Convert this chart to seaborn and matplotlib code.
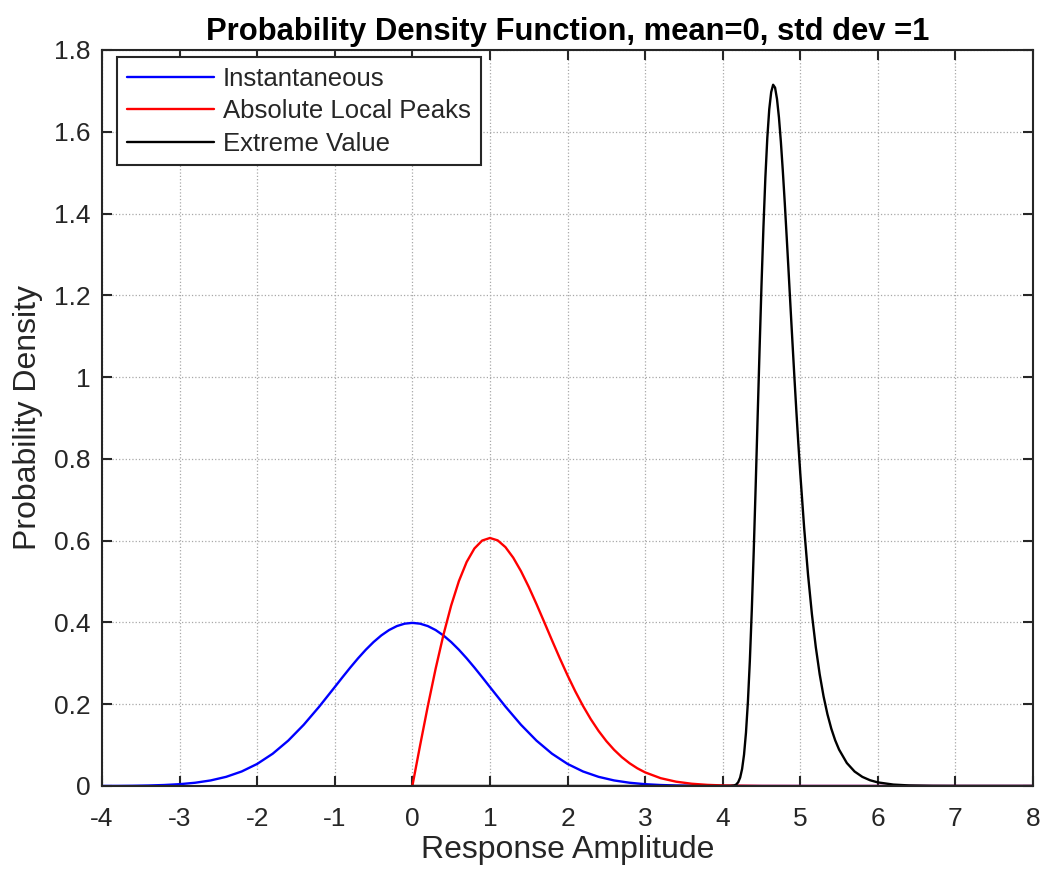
import matplotlib
matplotlib.use("Agg")
import matplotlib.pyplot as plt
import seaborn as sns

# ---- data ----
inst_x = [-4.0, -3.8, -3.6, -3.4, -3.2, -3.0, -2.8, -2.6, -2.4, -2.2, -2.0, -1.8, -1.6, -1.4, -1.2,
          -1.0, -0.9, -0.8, -0.7, -0.6, -0.5, -0.4, -0.3, -0.2, -0.1, 0.0, 0.1, 0.2, 0.3, 0.4, 0.5,
          0.6, 0.7, 0.8, 0.9, 1.0, 1.2, 1.4, 1.6, 1.8, 2.0, 2.2, 2.4, 2.6, 2.8, 3.0, 3.2, 3.4, 3.6,
          3.8, 4.0, 4.5, 5.0, 6.0, 7.0, 8.0]
inst_y = [0.000134, 0.000292, 0.000612, 0.001232, 0.002384, 0.004432, 0.007915, 0.013583, 0.022395,
          0.035475, 0.053991, 0.078950, 0.110921, 0.149727, 0.194186, 0.241971, 0.266085, 0.289692,
          0.312254, 0.333225, 0.352065, 0.368270, 0.381388, 0.391043, 0.396953, 0.398942, 0.396953,
          0.391043, 0.381388, 0.368270, 0.352065, 0.333225, 0.312254, 0.289692, 0.266085, 0.241971,
          0.194186, 0.149727, 0.110921, 0.078950, 0.053991, 0.035475, 0.022395, 0.013583, 0.007915,
          0.004432, 0.002384, 0.001232, 0.000612, 0.000292, 0.000134, 0.000016, 0.0000015, 0.0, 0.0, 0.0]

peak_x = [0.0, 0.1, 0.2, 0.3, 0.4, 0.5, 0.6, 0.7, 0.8, 0.9, 1.0, 1.1, 1.2, 1.3, 1.4, 1.5, 1.6, 1.7,
          1.8, 1.9, 2.0, 2.1, 2.2, 2.3, 2.4, 2.5, 2.6, 2.7, 2.8, 2.9, 3.0, 3.2, 3.4, 3.6, 3.8, 4.0,
          4.5, 5.0, 6.0, 7.0, 8.0]
peak_y = [0.0, 0.099501, 0.196040, 0.286799, 0.369247, 0.441248, 0.501162, 0.547893, 0.580919,
          0.600279, 0.606531, 0.600681, 0.584102, 0.558424, 0.525435, 0.486979, 0.444859, 0.400768,
          0.356218, 0.312501, 0.270671, 0.231527, 0.195628, 0.163312, 0.134724, 0.109842, 0.088523,
          0.070528, 0.055555, 0.043271, 0.033327, 0.019123, 0.010503, 0.005522, 0.002782, 0.001342,
          0.00018, 0.0000186, 0.0, 0.0, 0.0]

ext_x = [0.0, 4.0, 4.05, 4.1, 4.15, 4.175, 4.2, 4.225, 4.25, 4.275, 4.3, 4.325, 4.35, 4.375, 4.4,
         4.425, 4.45, 4.475, 4.5, 4.525, 4.55, 4.575, 4.6, 4.625, 4.65, 4.675, 4.7, 4.725, 4.75,
         4.775, 4.8, 4.825, 4.85, 4.875, 4.9, 4.925, 4.95, 4.975, 5.0, 5.05, 5.1, 5.15, 5.2, 5.25,
         5.3, 5.35, 5.4, 5.45, 5.5, 5.6, 5.7, 5.8, 5.9, 6.0, 6.2, 6.4, 6.7, 7.0, 8.0]
ext_y = [0.0, 0.0, 0.000004, 0.000105, 0.00131, 0.00371, 0.00928, 0.0206, 0.0416, 0.0767, 0.1303,
         0.2062, 0.3063, 0.430, 0.574, 0.733, 0.900, 1.066, 1.224, 1.366, 1.488, 1.585, 1.655,
         1.697, 1.715, 1.708, 1.680, 1.635, 1.575, 1.504, 1.426, 1.342, 1.256, 1.168, 1.082, 0.997,
         0.915, 0.837, 0.764, 0.631, 0.5165, 0.420, 0.3396, 0.2733, 0.2193, 0.1755, 0.1401, 0.1117,
         0.0890, 0.0562, 0.0354, 0.0223, 0.0140, 0.0088, 0.00347, 0.00137, 0.00034, 0.00008, 0.0]

labels = ["Instantaneous", "Absolute Local Peaks", "Extreme Value"]
colors = ["#0000ff", "#ff0000", "#000000"]
x_ticks = [-4, -3, -2, -1, 0, 1, 2, 3, 4, 5, 6, 7, 8]
y_ticks = [0, 0.2, 0.4, 0.6, 0.8, 1, 1.2, 1.4, 1.6, 1.8]
y_tick_labels = ["0", "0.2", "0.4", "0.6", "0.8", "1", "1.2", "1.4", "1.6", "1.8"]

sns.set_theme(style="white")
plt.rcParams['font.family'] = ['Liberation Sans', 'DejaVu Sans']

fig = plt.figure(figsize=(10.42, 8.71), dpi=100)
ax = fig.add_axes([0.0979, 0.0976, 0.8935, 0.845])

for xs, ys, lab, col in zip([inst_x, peak_x, ext_x], [inst_y, peak_y, ext_y], labels, colors):
    sns.lineplot(x=xs, y=ys, ax=ax, color=col, label=lab, linewidth=1.7)

ax.set_xlim(-4, 8)
ax.set_ylim(0, 1.8)
ax.set_xticks(x_ticks)
ax.set_xticklabels([str(t) for t in x_ticks])
ax.set_yticks(y_ticks)
ax.set_yticklabels(y_tick_labels)
ax.grid(True, color="#a8a8a8", linestyle=":", linewidth=0.9)
ax.tick_params(direction="in", length=7, width=1.5, top=True, right=True, bottom=True, left=True,
               labelsize=19, colors="#262626")
ax.tick_params(axis="x", pad=15)
ax.tick_params(axis="y", pad=8)
for s in ax.spines.values():
    s.set_color("#262626")
    s.set_linewidth(1.5)

ax.set_xlabel("Response Amplitude", fontsize=23, color="#262626", labelpad=3)
ax.set_ylabel("Probability Density", fontsize=23, color="#262626", labelpad=8)
ax.set_title("Probability Density Function, mean=0, std dev =1", fontsize=22.3,
             fontweight="bold", color="black", pad=7)

leg = ax.legend(loc="upper left", bbox_to_anchor=(0.0161, 0.9905), borderaxespad=0,
                fontsize=18.5, frameon=True, fancybox=False,
                handlelength=3.4, labelspacing=0.33,
                borderpad=0.38, handletextpad=0.35)
leg.get_frame().set_edgecolor("#262626")
leg.get_frame().set_linewidth(1.5)
leg.get_frame().set_alpha(1)

fig.savefig("out.png", dpi=100)
